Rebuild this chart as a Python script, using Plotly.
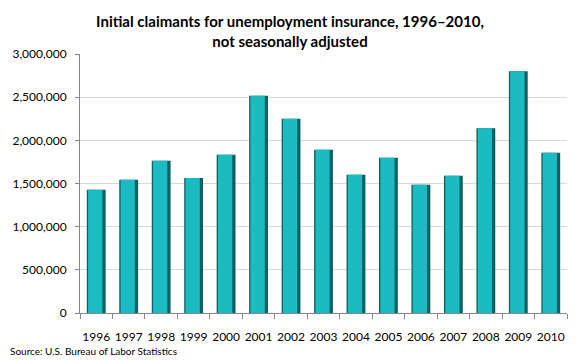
import plotly.graph_objects as go

years = ["1996", "1997", "1998", "1999", "2000", "2001", "2002", "2003",
         "2004", "2005", "2006", "2007", "2008", "2009", "2010"]
claimants = [1428000, 1544000, 1764000, 1564000, 1834000, 2517000, 2251000, 1892000,
             1602000, 1799000, 1486000, 1590000, 2139000, 2799000, 1857000]

title_text = "<b>Initial claimants for unemployment insurance, 1996\u20132010,<br>not seasonally adjusted</b>"
source_text = "Source: U.S. Bureau of Labor Statistics"

fig = go.Figure()
# dark base (bevel shadow)
fig.add_trace(go.Bar(x=years, y=claimants, width=0.58, offset=-0.29,
                     marker=dict(color="#0D5F62", line=dict(width=0)),
                     hoverinfo="skip"))
# bright face
fig.add_trace(go.Bar(x=years, y=claimants, width=0.44, offset=-0.25,
                     marker=dict(color="#1ABCC1", line=dict(width=0)),
                     hovertemplate="%{x}: %{y:,}<extra></extra>"))

fig.update_layout(
    width=580, height=360,
    barmode="overlay",
    showlegend=False,
    plot_bgcolor="white", paper_bgcolor="white",
    margin=dict(l=80, r=13, t=54, b=47),
    font=dict(family="Lato, 'Open Sans', sans-serif", size=11, color="#000000"),
    title=dict(text=title_text, x=0.5, xref="container", xanchor="center",
               y=0.925, yref="container", yanchor="middle",
               font=dict(size=15, family="Lato, 'Open Sans', sans-serif", color="#000000")),
    xaxis=dict(type="category", showline=True, linecolor="#868686", linewidth=1,
               ticks="outside", tickson="boundaries", ticklen=5, tickcolor="#868686",
               showgrid=False, tickfont=dict(size=12), tickangle=0, automargin=False,
               ticklabelstandoff=13, fixedrange=True),
    yaxis=dict(range=[0, 3000000], dtick=500000, tickformat=",",
               showline=True, linecolor="#868686", linewidth=1,
               ticks="outside", ticklen=4, tickcolor="#868686",
               showgrid=True, gridcolor="#D9D9D9", gridwidth=1,
               zeroline=False, tickfont=dict(size=12), automargin=False,
               ticklabelstandoff=6, fixedrange=True),
    annotations=[dict(text=source_text, xref="paper", yref="paper",
                      x=-0.147, y=-0.145, xanchor="left", yanchor="middle",
                      showarrow=False, font=dict(size=10))],
)

fig.write_html("out.html", config={"displayModeBar": False},
               post_script="document.body.style.margin='0';document.body.style.overflow='hidden';")
